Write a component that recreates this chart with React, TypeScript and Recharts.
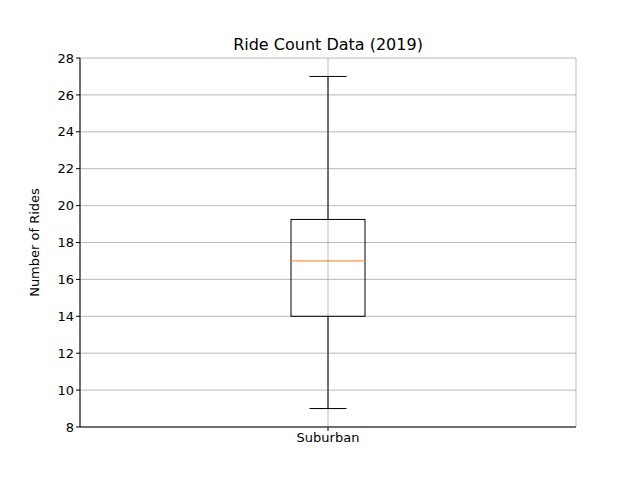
import React from "react";
import { ComposedChart, Bar, XAxis, YAxis, CartesianGrid } from "recharts";

const categories = ["Suburban"];
const whiskerLow = [9];
const q1 = [14];
const median = [17];
const q3 = [19.25];
const whiskerHigh = [27];
const yTicks = [8, 10, 12, 14, 16, 18, 20, 22, 24, 26, 28];

const data = categories.map((name, i) => ({
  name,
  range: [whiskerLow[i], whiskerHigh[i]],
  lo: whiskerLow[i],
  q1: q1[i],
  med: median[i],
  q3: q3[i],
  hi: whiskerHigh[i],
}));

const font = "'DejaVu Sans', sans-serif";

function BoxShape(props: any) {
  const { x, y, width, height, payload } = props;
  const { lo, q1, med, q3, hi } = payload;
  const py = (v: number) => y + ((hi - v) * height) / (hi - lo);
  const cx = x + width / 2;
  const cap = width / 4;
  return (
    <g>
      <line x1={cx} x2={cx} y1={py(hi)} y2={py(q3)} stroke="#000" />
      <line x1={cx} x2={cx} y1={py(q1)} y2={py(lo)} stroke="#000" />
      <line x1={cx - cap} x2={cx + cap} y1={py(hi)} y2={py(hi)} stroke="#000" />
      <line x1={cx - cap} x2={cx + cap} y1={py(lo)} y2={py(lo)} stroke="#000" />
      <rect x={x} y={py(q3)} width={width} height={py(q1) - py(q3)} fill="none" stroke="#000" />
      <line x1={x} x2={x + width} y1={py(med)} y2={py(med)} stroke="#ff7f0e" />
    </g>
  );
}

export default function App() {
  return (
    <div style={{ position: "absolute", left: 0, top: 0, width: 640, height: 480, background: "#fff", fontFamily: font }}>
      <div style={{ position: "absolute", top: 35, width: 656, textAlign: "center", fontSize: 16, color: "#000" }}>
        Ride Count Data (2019)
      </div>
      <ComposedChart width={640} height={480} data={data} margin={{ top: 58, right: 64, bottom: 23, left: 30 }}>
        <CartesianGrid stroke="#a8a8a8" strokeWidth={0.8} />
        <XAxis dataKey="name" stroke="#000" tickSize={4} tick={{ fill: "#000", fontSize: 13, fontFamily: font }} tickLine={{ stroke: "#000" }} />
        <XAxis xAxisId="top" dataKey="name" orientation="top" tick={false} tickLine={false} stroke="#000" height={0} />
        <YAxis
          domain={[8, 28]}
          ticks={yTicks}
          type="number"
          width={50}
          stroke="#000"
          tickSize={4}
          tick={{ fill: "#000", fontSize: 13, fontFamily: font }}
          label={{ value: "Number of Rides", angle: -90, position: "insideLeft", offset: 0, dx: 4, style: { fill: "#000", fontSize: 13, fontFamily: font, textAnchor: "middle" } }}
        />
        <YAxis yAxisId="right" orientation="right" domain={[8, 28]} tick={false} tickLine={false} stroke="#000" width={0} />
        <Bar dataKey="range" barSize={74} shape={<BoxShape />} isAnimationActive={false} />
      </ComposedChart>
    </div>
  );
}
